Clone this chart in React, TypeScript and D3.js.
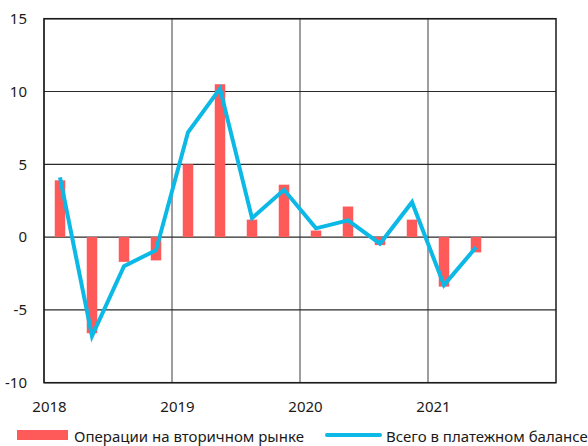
import React from 'react';
import * as d3 from 'd3';

const quarters = ['2018Q1', '2018Q2', '2018Q3', '2018Q4', '2019Q1', '2019Q2', '2019Q3', '2019Q4',
  '2020Q1', '2020Q2', '2020Q3', '2020Q4', '2021Q1', '2021Q2'];
const secondaryMarket = [3.9, -6.6, -1.7, -1.6, 5.0, 10.5, 1.2, 3.6, 0.45, 2.1, -0.55, 1.2, -3.4, -1.05];
const balanceTotal = [4.1, -6.8, -2.0, -0.9, 7.2, 10.2, 1.3, 3.25, 0.6, 1.15, -0.45, 2.4, -3.3, -0.7];
const years = ['2018', '2019', '2020', '2021'];
const yTicks = [15, 10, 5, 0, -5, -10];
const seriesNames = ['Операции на вторичном рынке', 'Всего в платежном балансе'];

const W = 588;
const H = 446;
const left = 44;
const right = 556;
const top = 18.7;
const bottom = 382.7;
const font = "'Noto Sans', sans-serif";

export default function App() {
  const x = d3.scaleLinear().domain([0, 16]).range([left, right]);
  const y = d3.scaleLinear().domain([-10, 15]).range([bottom, top]);
  const barW = 10.5;

  const line = d3.line<number>()
    .x((_, i) => x(i + 0.5))
    .y(d => y(d));

  return (
    <svg width={W} height={H} style={{ position: 'absolute', left: 0, top: 0 }} fontFamily={font}>
      <rect width={W} height={H} fill="#fff" />
      {/* vertical gridlines */}
      {years.map((_, i) => (
        <line key={'v' + i} x1={x(i * 4)} x2={x(i * 4)} y1={top} y2={bottom} stroke="#6a6a6a" strokeWidth={1.3} />
      ))}
      {/* horizontal gridlines */}
      {yTicks.map(t => (
        <line key={'h' + t} x1={left} x2={right} y1={y(t)} y2={y(t)} stroke="#2a2a2a" strokeWidth={1.2} />
      ))}
      <rect x={left} y={top} width={right - left} height={bottom - top} fill="none" stroke="#1a1a1a" strokeWidth={1.5} />
      {/* bars */}
      {secondaryMarket.map((v, i) => (
        <rect key={quarters[i]} x={x(i + 0.5) - barW / 2} width={barW}
          y={Math.min(y(v), y(0))} height={Math.abs(y(v) - y(0))} fill="#ff5a5a" />
      ))}
      <path d={line(balanceTotal) || ''} fill="none" stroke="#0bb8e6" strokeWidth={4} strokeLinejoin="miter" />
      {/* y labels */}
      {yTicks.map(t => (
        <text key={'yl' + t} x={27} y={y(t)} dy="0.35em" textAnchor="end" fontSize={15} fill="#1a1a1a">{t}</text>
      ))}
      {/* x labels */}
      {years.map((yr, i) => (
        <text key={yr} x={x(i * 4) + 5.5} y={412} textAnchor="middle" fontSize={15} fill="#1a1a1a">{yr}</text>
      ))}
      {/* legend */}
      <rect x={17} y={430} width={51} height={10} fill="#ff5a5a" />
      <text x={74} y={442} fontSize={15} fill="#1a1a1a">{seriesNames[0]}</text>
      <line x1={327} x2={380} y1={435} y2={435} stroke="#0bb8e6" strokeWidth={4} strokeLinecap="round" />
      <text x={386} y={442} fontSize={15} fill="#1a1a1a">{seriesNames[1]}</text>
    </svg>
  );
}
